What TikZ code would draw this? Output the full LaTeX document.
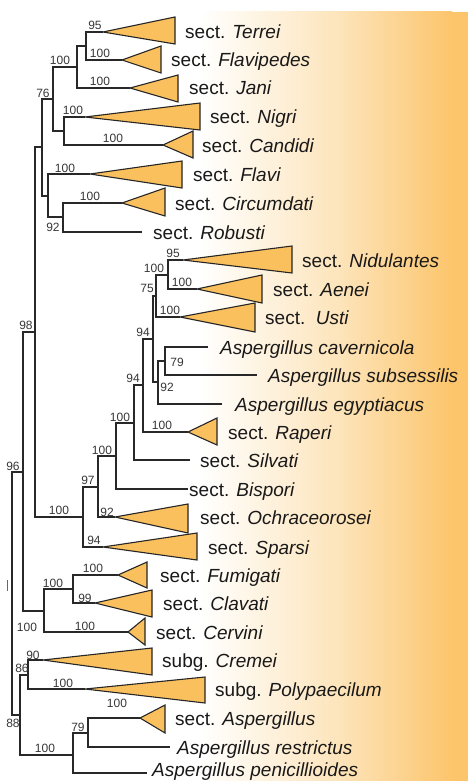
\documentclass[tikz,border=0pt]{standalone}
\usepackage{fontspec}
\setmainfont{Liberation Sans}
\definecolor{treeC}{RGB}{40,40,40}
\definecolor{cladeC}{RGB}{251,192,94}
\definecolor{txtC}{RGB}{25,25,25}
\definecolor{numC}{RGB}{55,55,55}
\definecolor{bgmid}{RGB}{253,228,186}
\definecolor{bgor}{RGB}{252,197,108}
\newcommand\mkclade[6]{\coordinate (#1) at (#2,#3);
  \draw[clade] (#1) -- (#4,#5) -- (#4,#6) -- cycle;}
\tikzset{
  br/.style={line width=1.5pt, draw=treeC},
  clade/.style={fill=cladeC, draw=black!85, line width=1.1pt, line join=miter},
  taxon/.style={anchor=base west, inner sep=0pt, font=\fontsize{19}{21}\selectfont, text=txtC},
  bs/.style={inner sep=0pt, font=\fontsize{12}{13}\selectfont, text=numC},
}
\begin{document}
\begin{tikzpicture}[x=1pt,y=-1pt]
\useasboundingbox (0,0) rectangle (468,781);
% background
\fill[white] (0,0) rectangle (468,781);
\shade[left color=white, right color=bgmid] (200,12) rectangle (340,781);
\shade[left color=bgmid, right color=bgor] (339.5,12) rectangle (452,781);
\fill[bgor] (451.5,12) rectangle (468,781);

% internal nodes
\coordinate (root) at (12,593);
\coordinate (n96) at (23,472);
\coordinate (n98) at (35,332);
\coordinate (n42) at (42,147);
\coordinate (n76) at (53,99);
\coordinate (nA) at (77,67);
\coordinate (nTF) at (86,46);
\coordinate (nNC) at (64,131);
\coordinate (nFCR) at (48,196);
\coordinate (nCR) at (63,217);
\coordinate (nBig) at (83,517);
\coordinate (n97) at (98,487);
\coordinate (nSB) at (116,456);
\coordinate (nSS) at (134,423);
\coordinate (n94a) at (143,385);
\coordinate (n94b) at (153,339);
\coordinate (n75) at (156,296);
\coordinate (nNA) at (168,275);
\coordinate (n92) at (158,382);
\coordinate (n79) at (165,361);
\coordinate (nFCC) at (44,611);
\coordinate (nFC) at (73,589);
\coordinate (n88) at (20,715);
\coordinate (n86) at (28,675);
\coordinate (nAsp) at (73,755);
\coordinate (n79b) at (88,733);
% leaf ends (single species)
\coordinate (eRob) at (142,232);
\coordinate (eCav) at (208,347);
\coordinate (eSub) at (257,375);
\coordinate (eEgy) at (222,404);
\coordinate (eSil) at (190,460);
\coordinate (eBis) at (188,489);
\coordinate (eRes) at (170,747);
\coordinate (ePen) at (147,773);
\coordinate (tickA) at (7,580);
\coordinate (tickB) at (7,591);

% collapsed clades
\mkclade{tTer}{103}{32}{175}{17}{44}
\mkclade{tFlp}{122}{60}{161}{46}{73}
\mkclade{tJan}{130}{88}{178}{75}{102}
\mkclade{tNig}{85}{117}{200}{103}{130}
\mkclade{tCan}{163}{145}{193}{131}{158}
\mkclade{tFla}{90}{174}{182}{161}{188}
\mkclade{tCir}{122}{203}{165}{188}{216}
\mkclade{tNid}{183}{260}{292}{246}{273}
\mkclade{tAen}{197}{289}{262}{275}{303}
\mkclade{tUst}{180}{317}{255}{303}{332}
\mkclade{tRap}{188}{432}{217}{418}{445}
\mkclade{tOch}{115}{517}{188}{504}{533}
\mkclade{tSpa}{103}{547}{197}{533}{560}
\mkclade{tFum}{118}{575}{147}{562}{588}
\mkclade{tCla}{95}{603}{152}{590}{617}
\mkclade{tCer}{128}{632}{145}{618}{645}
\mkclade{tCre}{43}{660}{152}{648}{675}
\mkclade{tPol}{85}{689}{205}{677}{703}
\mkclade{tAsp}{140}{718}{165}{705}{733}

% branches
\draw[br] (nTF) |- (tTer); \draw[br] (nTF) |- (tFlp);
\draw[br] (nA) |- (nTF); \draw[br] (nA) |- (tJan);
\draw[br] (nNC) |- (tNig); \draw[br] (nNC) |- (tCan);
\draw[br] (n76) |- (nA); \draw[br] (n76) |- (nNC);
\draw[br] (nCR) |- (tCir); \draw[br] (nCR) |- (eRob);
\draw[br] (nFCR) |- (tFla); \draw[br] (nFCR) |- (nCR);
\draw[br] (n42) |- (n76); \draw[br] (n42) |- (nFCR);
\draw[br] (n98) |- (n42); \draw[br] (n98) |- (nBig);
\draw[br] (nBig) |- (n97); \draw[br] (nBig) |- (tSpa);
\draw[br] (n97) |- (nSB); \draw[br] (n97) |- (tOch);
\draw[br] (nSB) |- (nSS); \draw[br] (nSB) |- (eBis);
\draw[br] (nSS) |- (n94a); \draw[br] (nSS) |- (eSil);
\draw[br] (n94a) |- (n94b); \draw[br] (n94a) |- (tRap);
\draw[br] (n94b) |- (n75); \draw[br] (n94b) |- (n92);
\draw[br] (n75) |- (nNA); \draw[br] (n75) |- (tUst);
\draw[br] (nNA) |- (tNid); \draw[br] (nNA) |- (tAen);
\draw[br] (n92) |- (n79); \draw[br] (n92) |- (eEgy);
\draw[br] (n79) |- (eCav); \draw[br] (n79) |- (eSub);
\draw[br] (n96) |- (n98); \draw[br] (n96) |- (nFCC);
\draw[br] (nFCC) |- (nFC); \draw[br] (nFCC) |- (tCer);
\draw[br] (nFC) |- (tFum); \draw[br] (nFC) |- (tCla);
\draw[br] (root) |- (n96); \draw[br] (root) |- (n88);
\draw[br] (n88) |- (n86); \draw[br] (n88) |- (nAsp);
\draw[br] (n86) |- (tCre); \draw[br] (n86) |- (tPol);
\draw[br] (nAsp) |- (n79b); \draw[br] (nAsp) |- (ePen);
\draw[br] (n79b) |- (tAsp); \draw[br] (n79b) |- (eRes);
\draw[line width=1pt, draw=treeC!70] (tickA) -- (tickB);

% taxon labels
\node[taxon] (lTer) at (185,39) {sect. \textit{Terrei}};
\node[taxon] (lFlp) at (171,67) {sect. \textit{Flavipedes}};
\node[taxon] (lJan) at (189,95) {sect. \textit{Jani}};
\node[taxon] (lNig) at (210,124) {sect. \textit{Nigri}};
\node[taxon] (lCan) at (202,152) {sect. \textit{Candidi}};
\node[taxon] (lFla) at (193,181) {sect. \textit{Flavi}};
\node[taxon] (lCir) at (175,210) {sect. \textit{Circumdati}};
\node[taxon] (lRob) at (153,239) {sect. \textit{Robusti}};
\node[taxon] (lNid) at (302,267) {sect. \textit{Nidulantes}};
\node[taxon] (lAen) at (273,296) {sect. \textit{Aenei}};
\node[taxon] (lUst) at (265,324) {sect.\ \ \textit{Usti}};
\node[taxon] (lCav) at (220,354) {\textit{Aspergillus cavernicola}};
\node[taxon] (lSub) at (268,382) {\textit{Aspergillus subsessilis}};
\node[taxon] (lEgy) at (235,411) {\textit{Aspergillus egyptiacus}};
\node[taxon] (lRap) at (228,439) {sect. \textit{Raperi}};
\node[taxon] (lSil) at (200,467) {sect. \textit{Silvati}};
\node[taxon] (lBis) at (189,496) {sect. \textit{Bispori}};
\node[taxon] (lOch) at (200,524) {sect. \textit{Ochraceorosei}};
\node[taxon] (lSpa) at (208,554) {sect. \textit{Sparsi}};
\node[taxon] (lFum) at (160,582) {sect. \textit{Fumigati}};
\node[taxon] (lCla) at (163,610) {sect. \textit{Clavati}};
\node[taxon] (lCer) at (156,639) {sect. \textit{Cervini}};
\node[taxon] (lCre) at (162,667) {subg. \textit{Cremei}};
\node[taxon] (lPol) at (215,696) {subg. \textit{Polypaecilum}};
\node[taxon] (lAsp) at (175,725) {sect. \textit{Aspergillus}};
\node[taxon] (lRes) at (177,754) {\textit{Aspergillus restrictus}};
\node[taxon] (lPen) at (152,776.5) {\textit{Aspergillus penicillioides}};

% support values
\node[bs] (s1) at (95,25) {95};
\node[bs] (s2) at (100,53) {100};
\node[bs] (s3) at (60,60) {100};
\node[bs] (s4) at (100,81) {100};
\node[bs] (s5) at (43,93) {76};
\node[bs] (s6) at (73,110) {100};
\node[bs] (s7) at (113,138) {100};
\node[bs] (s8) at (65,168) {100};
\node[bs] (s9) at (90,196) {100};
\node[bs] (s10) at (53,227) {92};
\node[bs] (s11) at (26,325) {98};
\node[bs] (s12) at (173,253) {95};
\node[bs] (s13) at (154,268) {100};
\node[bs] (s14) at (182,282) {100};
\node[bs] (s15) at (147,288) {75};
\node[bs] (s16) at (170,310) {100};
\node[bs] (s17) at (143,332) {94};
\node[bs] (s18) at (177,362) {79};
\node[bs] (s19) at (167,387) {92};
\node[bs] (s20) at (133,378) {94};
\node[bs] (s21) at (162,425) {100};
\node[bs] (s22) at (120,417) {100};
\node[bs] (s23) at (102,450) {100};
\node[bs] (s24) at (88,480) {97};
\node[bs] (s25) at (107,512) {92};
\node[bs] (s26) at (94,540) {94};
\node[bs] (s27) at (59,510) {100};
\node[bs] (s28) at (13,466) {96};
\node[bs] (s29) at (93,568) {100};
\node[bs] (s30) at (53,583) {100};
\node[bs] (s31) at (85,598) {99};
\node[bs] (s32) at (27,627) {100};
\node[bs] (s33) at (85,626) {100};
\node[bs] (s34) at (33,655) {90};
\node[bs] (s35) at (22,668) {86};
\node[bs] (s36) at (63,683) {100};
\node[bs] (s37) at (13,723) {88};
\node[bs] (s38) at (45,748) {100};
\node[bs] (s39) at (78,727) {79};
\node[bs] (s40) at (117,703) {100};
\end{tikzpicture}
\end{document}
